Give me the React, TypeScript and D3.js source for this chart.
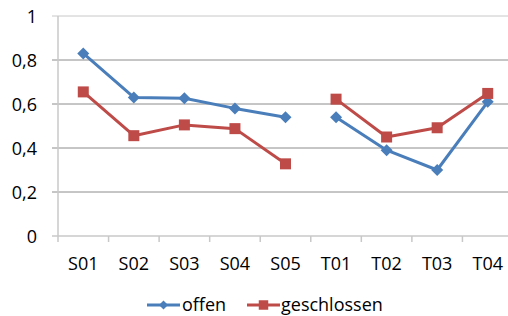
import React from "react";
import * as d3 from "d3";

const categories = ["S01", "S02", "S03", "S04", "S05", "T01", "T02", "T03", "T04"];
const offen = [0.83, 0.63, 0.626, 0.58, 0.54, 0.54, 0.39, 0.3, 0.61];
const geschlossen = [0.655, 0.456, 0.505, 0.488, 0.328, 0.622, 0.45, 0.492, 0.648];
// the lines break between S05 and T01
const segments = [[0, 5], [5, 9]];
const yTicks = [0, 0.2, 0.4, 0.6, 0.8, 1];

const blue = "#4A7EBB";
const red = "#BE4B48";

// square rotated by 45 degrees, half diagonal r
const diamondPath = (r: number) => `M0,${-r}L${r},0L0,${r}L${-r},0Z`;

const App = () => {
  const width = 508, height = 316;
  const left = 58, right = 513, top = 16, bottom = 236;

  const x = d3.scaleBand<string>().domain(categories).range([left, right]);
  const y = d3.scaleLinear().domain([0, 1]).range([bottom, top]);
  const cx = (i: number) => (x(categories[i]) as number) + x.bandwidth() / 2;

  const path = (vals: number[]) =>
    segments.map(([a, b]) =>
      d3.line<number>().x(i => cx(i)).y(i => y(vals[i]))(d3.range(a, b))
    );

  const square = d3.symbol(d3.symbolSquare, 121);
  const smallSquare = d3.symbol(d3.symbolSquare, 90);
  const fmt = (v: number) => String(v).replace(".", ",");
  const font = "'Open Sans', sans-serif";

  return (
    <svg width={width} height={height} style={{ position: "absolute", left: 0, top: 0 }}>
      <rect width={width} height={height} fill="#fff" />
      {yTicks.map(t => (
        <g key={t}>
          {t > 0 && (
            <line x1={left - 6} x2={right} y1={y(t)} y2={y(t)}
              stroke={t === 1 ? "#c8c8c8" : "#8c8c8c"} strokeWidth={1} />
          )}
          <text x={37} y={y(t) + 6.5} textAnchor="end" fontFamily={font} fontSize={18} fill="#000">
            {fmt(t)}
          </text>
        </g>
      ))}
      <line x1={left} x2={left} y1={top} y2={bottom} stroke="#c8c8c8" strokeWidth={1.5} />
      <line x1={left - 6} x2={right} y1={bottom} y2={bottom} stroke="#c8c8c8" strokeWidth={1.5} />
      {categories.map((c, i) => (
        <g key={c}>
          <line x1={x(c)} x2={x(c)} y1={bottom} y2={bottom + 6} stroke="#c8c8c8" strokeWidth={1.5} />
          <text x={cx(i)} y={270} textAnchor="middle" fontFamily={font} fontSize={18} fill="#000">{c}</text>
        </g>
      ))}
      {path(offen).map((d, k) => (
        <path key={"o" + k} d={d || ""} fill="none" stroke={blue} strokeWidth={3} strokeLinejoin="round" />
      ))}
      {path(geschlossen).map((d, k) => (
        <path key={"g" + k} d={d || ""} fill="none" stroke={red} strokeWidth={3} strokeLinejoin="round" />
      ))}
      {offen.map((v, i) => (
        <path key={"od" + i} d={diamondPath(6)} transform={`translate(${cx(i)},${y(v)})`} fill={blue} />
      ))}
      {geschlossen.map((v, i) => (
        <path key={"gs" + i} d={square() || ""} transform={`translate(${cx(i)},${y(v)})`} fill={red} />
      ))}
      <g>
        <line x1={147} x2={180} y1={305} y2={305} stroke={blue} strokeWidth={3} />
        <path d={diamondPath(4.5)} transform="translate(163.5,305)" fill={blue} />
        <text x={182} y={311} fontFamily={font} fontSize={18} fill="#000">offen</text>
        <line x1={247} x2={280} y1={305} y2={305} stroke={red} strokeWidth={3} />
        <path d={smallSquare() || ""} transform="translate(263.5,305)" fill={red} />
        <text x={281} y={311} fontFamily={font} fontSize={18} fill="#000">geschlossen</text>
      </g>
    </svg>
  );
};

export default App;
